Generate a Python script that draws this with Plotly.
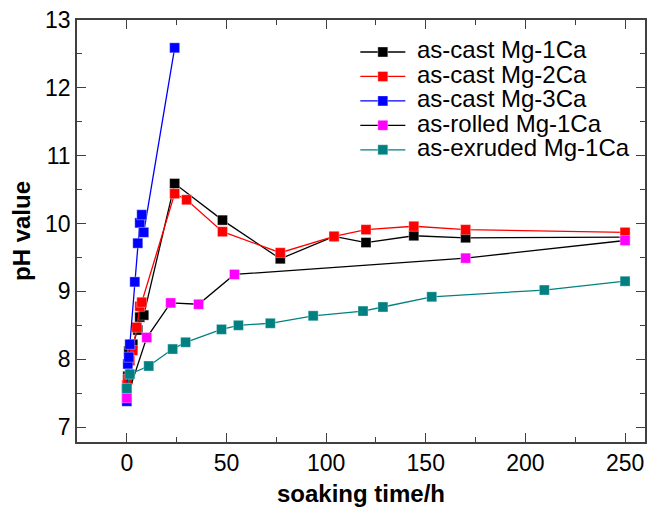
import plotly.graph_objects as go

# ---- data ----
names = ["as-cast Mg-1Ca", "as-cast Mg-2Ca", "as-cast Mg-3Ca", "as-rolled Mg-1Ca", "as-exruded Mg-1Ca"]

t_cast1 = [0, 0.5, 1, 3, 5.5, 6.5, 8.5, 24, 48, 77, 104, 120, 144, 170, 250]
ph_cast1 = [7.55, 7.75, 8.12, 8.22, 8.43, 8.62, 8.65, 10.59, 10.05, 9.48, 9.81, 9.72, 9.82, 9.79, 9.80]

t_cast2 = [0, 0.5, 1.5, 3, 5, 6.5, 7.5, 24, 30, 48, 77, 104, 120, 144, 170, 250]
ph_cast2 = [7.62, 7.70, 7.98, 8.13, 8.47, 8.78, 8.84, 10.44, 10.35, 9.88, 9.57, 9.81, 9.91, 9.96, 9.91, 9.87]

t_cast3 = [0, 0.5, 1, 1.5, 4, 5.5, 6.5, 7.5, 8.5, 24]
ph_cast3 = [7.38, 7.93, 8.03, 8.22, 9.14, 9.71, 10.01, 10.13, 9.87, 12.59]

t_rolled = [0, 10, 22, 36, 54, 170, 250]
ph_rolled = [7.43, 8.32, 8.83, 8.81, 9.25, 9.49, 9.75]

t_extr = [0, 1.5, 11, 23, 29.5, 47.5, 56, 72, 93.5, 118.5, 128.5, 153, 209.5, 250]
ph_extr = [7.57, 7.78, 7.90, 8.15, 8.25, 8.44, 8.50, 8.53, 8.64, 8.71, 8.77, 8.92, 9.02, 9.15]

series = [
    (t_cast1, ph_cast1, "#000000", "#000000"),
    (t_cast2, ph_cast2, "#ff0000", "#ff0000"),
    (t_cast3, ph_cast3, "#0000ff", "#0000ff"),
    (t_rolled, ph_rolled, "#000000", "#ff00ff"),
    (t_extr, ph_extr, "#008080", "#008080"),
]

FONT = "Liberation Sans, Arial, sans-serif"

fig = go.Figure()
for name, (x, y, lc, mc) in zip(names, series):
    fig.add_trace(go.Scatter(
        x=x, y=y, mode="lines+markers",
        name='<span style="font-size:24px"> ' + name + '</span>',
        line=dict(color=lc, width=1.3),
        marker=dict(symbol="square", size=10, color=mc, line=dict(width=0.6, color="rgba(255,255,255,0.6)")),
    ))

axis_common = dict(
    showline=True, linecolor="#404040", linewidth=1.5, mirror="ticks",
    ticks="inside", ticklen=9, tickwidth=1.3, tickcolor="#404040",
    showgrid=False, zeroline=False,
    tickfont=dict(family=FONT, size=23, color="#000"),
)

fig.update_xaxes(
    range=[-25, 260], tickvals=[0, 50, 100, 150, 200, 250],
    minor=dict(ticks="inside", ticklen=5, dtick=25, tick0=0, tickcolor="#404040", tickwidth=1.2),
    title=dict(text="<b>soaking time/h</b>", font=dict(family=FONT, size=24, color="#000"), standoff=11),
    **axis_common,
)
fig.update_yaxes(
    range=[6.78, 13], tickvals=[7, 8, 9, 10, 11, 12, 13],
    minor=dict(ticks="inside", ticklen=5, dtick=0.5, tick0=7, tickcolor="#404040", tickwidth=1.2),
    title=dict(text="<b>pH value</b>", font=dict(family=FONT, size=24, color="#000"), standoff=8),
    **axis_common,
)

fig.update_layout(
    width=649, height=507,
    margin=dict(l=77, r=2, t=20, b=65),
    plot_bgcolor="white", paper_bgcolor="white",
    font=dict(family=FONT, color="#000"),
    legend=dict(
        x=0.49, y=0.965, xanchor="left", yanchor="top",
        font=dict(family=FONT, size=16.5, color="#000"),
        bgcolor="rgba(0,0,0,0)", borderwidth=0, itemwidth=45,
        tracegroupgap=0,
    ),
    showlegend=True,
)

fig.write_html("out.html")
